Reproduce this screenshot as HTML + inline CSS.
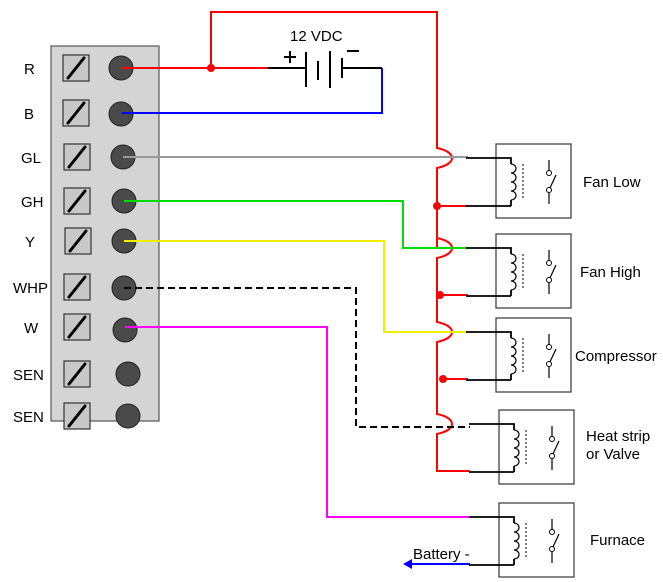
<!DOCTYPE html>
<html><head><style>body{margin:0;background:#fff}svg{display:block}text{font-family:"Liberation Sans",sans-serif;font-size:15px;fill:#000}</style></head><body>
<svg width="663" height="582" viewBox="0 0 663 582" xmlns="http://www.w3.org/2000/svg">
<defs>
<g id="term"><rect x="-13" y="-13" width="26" height="26" fill="#c8c8c8" stroke="#333" stroke-width="1.2"/><line x1="-8" y1="10" x2="8" y2="-10" stroke="#000" stroke-width="3" stroke-linecap="round"/></g>
<g id="relay">
<rect x="0" y="0" width="75" height="74" fill="#fff" stroke="#444" stroke-width="1.3"/>
<path d="M-30 14 H15 V20 M15 62 H-30 M15 56 V62" fill="none" stroke="#000" stroke-width="1.8"/>
<path d="M15 20 a5 4.5 0 0 1 0 9 a5 4.5 0 0 1 0 9 a5 4.5 0 0 1 0 9 a5 4.5 0 0 1 0 9" fill="none" stroke="#000" stroke-width="1.2"/>
<line x1="27" y1="20" x2="27" y2="56" stroke="#000" stroke-width="1" stroke-dasharray="2,2"/>
<path d="M53 16 V27 M53 49 V60 M53 46 L60 31" fill="none" stroke="#000" stroke-width="1.2"/>
<circle cx="53" cy="29" r="2.5" fill="#fff" stroke="#000"/><circle cx="53" cy="46" r="2.5" fill="#fff" stroke="#000"/>
</g>
</defs>
<rect x="51" y="46" width="108" height="375" fill="#d4d4d4" stroke="#555" stroke-width="1.2"/>
<g>
<text x="24" y="74">R</text><text x="24" y="119">B</text><text x="21" y="163">GL</text><text x="21" y="207">GH</text><text x="25" y="247">Y</text><text x="13" y="293">WHP</text><text x="24" y="333">W</text><text x="13" y="380">SEN</text><text x="13" y="422">SEN</text>
</g>
<use href="#term" x="76" y="68"/><use href="#term" x="76" y="113"/><use href="#term" x="77" y="157"/><use href="#term" x="77" y="201"/><use href="#term" x="78" y="241"/><use href="#term" x="77" y="287"/><use href="#term" x="77" y="327"/><use href="#term" x="77" y="374"/><use href="#term" x="77" y="416"/>
<g fill="#4a4a4a" stroke="#222">
<circle cx="121" cy="68" r="12"/><circle cx="121" cy="114" r="12"/><circle cx="123" cy="157" r="12"/><circle cx="124" cy="201" r="12"/><circle cx="124" cy="241" r="12"/><circle cx="124" cy="288" r="12"/><circle cx="125" cy="330" r="12"/><circle cx="128" cy="374" r="12"/><circle cx="128" cy="416" r="12"/>
</g>
<!-- red -->
<path d="M121 68 H268 M211 68 V12 H437 V148 c20 4 20 16 0 20 V248 M437 238 c20 4 20 16 0 20 V322 c20 4 20 16 0 20 V414 c20 4 20 16 0 20 V471 H470 M437 206 H468 M440 295 H468 M443 379 H468" stroke="#f00" stroke-width="2" fill="none"/>
<g fill="#f00"><circle cx="211" cy="68" r="4"/><circle cx="437" cy="206" r="4"/><circle cx="440" cy="295" r="4"/><circle cx="443" cy="379" r="4"/></g>
<!-- signals -->
<path d="M123 157 H468" stroke="#999" stroke-width="2" fill="none"/>
<path d="M124 201 H403 V248 H468" stroke="#0d0" stroke-width="2" fill="none"/>
<path d="M124 241 H384 V332 H468" stroke="#ee0" stroke-width="2" fill="none"/>
<path d="M124 288 H356 V427 H470" stroke="#000" stroke-width="2" stroke-dasharray="7,4" fill="none"/>
<path d="M125 327 H327 V517 H470" stroke="#f0f" stroke-width="2" fill="none"/>
<path d="M470 564 H408" stroke="#00f" stroke-width="2"/>
<path d="M403 564 l9 -5 v10 z" fill="#00f"/>
<!-- relays -->
<use href="#relay" x="496" y="144"/><use href="#relay" x="496" y="234"/><use href="#relay" x="496" y="318"/><use href="#relay" x="499" y="410"/><use href="#relay" x="499" y="503"/>
<text x="583" y="187">Fan Low</text><text x="580" y="277">Fan High</text><text x="575" y="361">Compressor</text><text x="586" y="441">Heat strip</text><text x="586" y="459">or Valve</text><text x="590" y="545">Furnace</text>
<text x="413" y="559">Battery -</text>
<!-- battery -->
<text x="290" y="41">12 VDC</text>
<path d="M284 57 h12 M290 51 v12 M347 51 h12" stroke="#000" stroke-width="2"/>
<path d="M268 68 H306 M306 52 V87 M318 61 V80 M330 51 V88 M342 58 V78 M342 68 H382" stroke="#000" stroke-width="2" fill="none"/>
<path d="M382 68 V113 H122" stroke="#00f" stroke-width="2" fill="none"/>
</svg>
</body></html>
